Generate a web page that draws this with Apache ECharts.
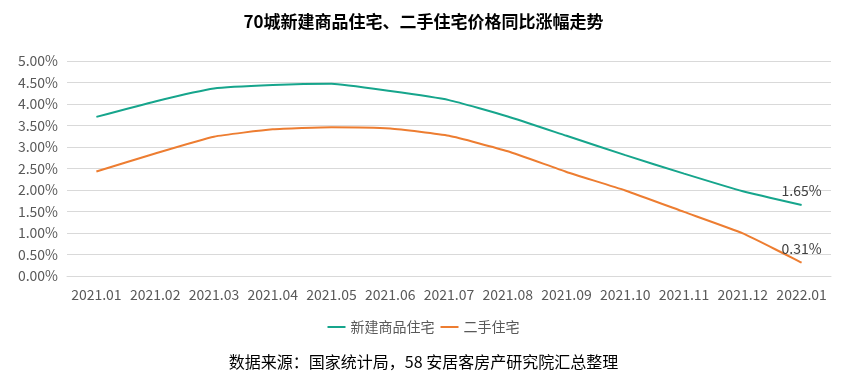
<!DOCTYPE html>
<html><head><meta charset="utf-8">
<script src="https://cdn.jsdelivr.net/npm/echarts@6/dist/echarts.min.js"></script>
<style>html,body{margin:0;padding:0;background:#fff}#c{width:847px;height:383px}</style>
</head><body><div id="c"></div>
<script>
const categories = ['2021.01','2021.02','2021.03','2021.04','2021.05','2021.06','2021.07','2021.08','2021.09','2021.10','2021.11','2021.12','2022.01'];
const newHomes = [3.70,4.06,4.36,4.44,4.47,4.30,4.09,3.71,3.26,2.81,2.38,1.97,1.65];
const secondHand = [2.43,2.85,3.24,3.41,3.46,3.43,3.26,2.90,2.42,1.99,1.49,0.99,0.31];
const seriesNames = ['新建商品住宅','二手住宅'];
const titleText = '70城新建商品住宅、二手住宅价格同比涨幅走势';
const sourceText = '数据来源：国家统计局，58 安居客房产研究院汇总整理';

const font = '"Noto Sans CJK SC", "Noto Sans", sans-serif';
const chart = echarts.init(document.getElementById('c'));
function lastLabel(arr){
  return arr.map((v,i)=> i===arr.length-1 ? {value:v, label:{show:true, position:'top', distance:7, formatter: p=>p.value.toFixed(2)+'%', color:'#404040', fontSize:14, fontFamily:font}} : v);
}
chart.setOption({
  animation:false,
  title:[{text:titleText,left:'center',top:8,textStyle:{fontSize:17,fontWeight:'bold',color:'#000',fontFamily:font}},
         {text:sourceText,left:'center',top:349,textStyle:{fontSize:16,fontWeight:'normal',color:'#000',fontFamily:font}}],
  legend:{data:seriesNames,top:315,left:'center',itemWidth:18,itemHeight:2,itemGap:6,icon:'rect',
          textStyle:{fontSize:14,color:'#595959',fontFamily:font}},
  grid:{left:67,right:16,top:61,bottom:107},
  xAxis:{type:'category',data:categories,boundaryGap:true,
         axisLine:{lineStyle:{color:'#d9d9d9'}},axisTick:{show:false},
         axisLabel:{color:'#595959',fontSize:14,fontFamily:font,margin:12,interval:0}},
  yAxis:{type:'value',min:0,max:5,interval:0.5,
         axisLine:{show:false},axisTick:{show:false},
         splitLine:{lineStyle:{color:'#d9d9d9',width:1}},
         axisLabel:{color:'#595959',fontSize:14,fontFamily:font,margin:9,formatter:v=>v.toFixed(2)+'%'}},
  series:[
    {name:seriesNames[0],type:'line',data:lastLabel(newHomes),smooth:0.15,symbol:'circle',symbolSize:0,showSymbol:true,
     lineStyle:{color:'#16A58C',width:2},itemStyle:{color:'#16A58C'}},
    {name:seriesNames[1],type:'line',data:lastLabel(secondHand),smooth:0.15,symbol:'circle',symbolSize:0,showSymbol:true,
     lineStyle:{color:'#ED7D31',width:2},itemStyle:{color:'#ED7D31'}}
  ]
});
</script></body></html>
